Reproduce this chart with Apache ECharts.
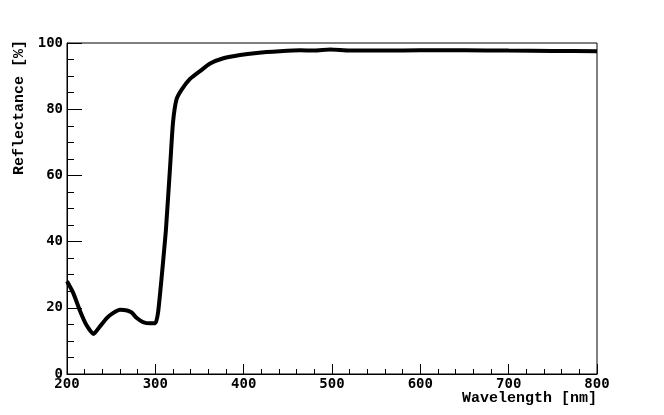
<!DOCTYPE html>
<html>
<head>
<meta charset="utf-8">
<script src="https://cdn.jsdelivr.net/npm/echarts@6/dist/echarts.min.js"></script>
<style>html,body{margin:0;padding:0;background:#fff;}#c{width:664px;height:415px;}</style>
</head>
<body>
<div id="c"></div>
<script>
var wavelength = [200,207,215,222,230,237,245,252,260,268,273,279,286,294,300,303,307,310,312,317,320,324,330,339,351,362,377,396,415,441,464,480,498,520,560,600,650,700,750,800];
var reflectance = [28.0,24.5,18.9,14.8,12.1,14.3,16.9,18.4,19.4,19.2,18.6,16.9,15.7,15.3,15.3,18.4,28.8,37.5,43.6,63.8,76,83,86,89.1,91.6,93.8,95.4,96.4,97.0,97.5,97.8,97.7,98.0,97.7,97.7,97.8,97.8,97.7,97.6,97.5];
var xTitle = 'Wavelength [nm]';
var yTitle = 'Reflectance [%]';

var seriesData = wavelength.map(function(w, i){ return [w, reflectance[i]]; });
var titleFont = '"Liberation Mono", "Courier New", monospace';
var tickFont = '"DejaVu Sans Mono", monospace';
var chart = echarts.init(document.getElementById('c'), null, {renderer: 'canvas'});
chart.setOption({
  animation: false,
  backgroundColor: '#fff',
  grid: {left: 67, right: 67, top: 43, bottom: 41, show: true, borderColor: '#000', borderWidth: 1},
  graphic: [
    {type: 'text', right: 67, top: 391, style: {text: xTitle, font: 'bold 15px ' + titleFont, fill: '#000'}},
    {type: 'text', x: 12, y: 40, rotation: Math.PI / 2, style: {text: yTitle, font: 'bold 15px ' + titleFont, fill: '#000', align: 'right', verticalAlign: 'top'}}
  ],
  xAxis: {
    type: 'value', min: 200, max: 800, interval: 100,
    axisLine: {show: true, lineStyle: {color: '#000', width: 1}},
    axisTick: {show: true, inside: true, length: 10, lineStyle: {color: '#000'}},
    minorTick: {show: true, splitNumber: 5, length: 5, lineStyle: {color: '#000'}},
    splitLine: {show: false},
    axisLabel: {fontFamily: tickFont, fontWeight: 'bold', fontSize: 14, color: '#000', margin: 3}
  },
  yAxis: {
    type: 'value', min: 0, max: 100, interval: 20,
    axisLine: {show: true, lineStyle: {color: '#000', width: 1}},
    axisTick: {show: true, inside: true, length: 15, lineStyle: {color: '#000'}},
    minorTick: {show: true, splitNumber: 4, length: 7, lineStyle: {color: '#000'}},
    splitLine: {show: false},
    axisLabel: {fontFamily: tickFont, fontWeight: 'bold', fontSize: 14, color: '#000', margin: 4}
  },
  series: [{
    type: 'line', data: seriesData, showSymbol: false, smooth: 0.2,
    lineStyle: {color: '#000', width: 4}
  }]
});
</script>
</body>
</html>
